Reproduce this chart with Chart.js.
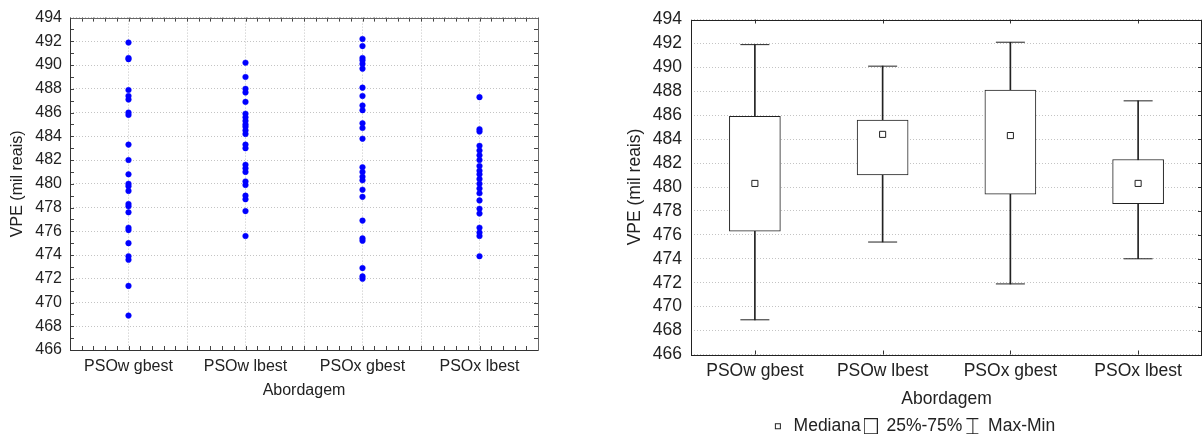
<!DOCTYPE html>
<html>
<head>
<meta charset="utf-8">
<script src="https://cdn.jsdelivr.net/npm/chart.js@4.4.1/dist/chart.umd.min.js"></script>
<style>
  html, body { margin: 0; padding: 0; background: #fff; }
  #wrap { position: relative; width: 1203px; height: 436px; }
  #dots { position: absolute; left: 0; top: 0; }
  #boxes { position: absolute; left: 600px; top: 0; }
</style>
</head>
<body>
<div id="wrap">
  <canvas id="dots" width="600" height="436"></canvas>
  <canvas id="boxes" width="603" height="436"></canvas>
</div>
<script>
const categories = ['PSOw gbest', 'PSOw lbest', 'PSOx gbest', 'PSOx lbest'];
const yMin = 466, yMax = 494, yStep = 2;

// VPE of each run, per approach (left plot)
const psowGbest = [491.9, 490.6, 490.5, 487.9, 487.4, 487.1, 486.0, 485.8, 483.3, 482.0, 480.8, 480.0,
  479.8, 479.4, 478.3, 478.1, 477.6, 476.3, 476.1, 475.0, 473.9, 473.6, 471.4, 468.9];
const psowLbest = [490.2, 489.0, 488.0, 487.7, 486.9, 485.9, 485.6, 485.3, 485.0, 484.8, 484.5, 484.2,
  483.3, 483.0, 481.6, 481.3, 481.0, 480.2, 479.9, 479.0, 478.7, 477.7, 475.6];
const psoxGbest = [492.2, 491.6, 490.6, 490.4, 490.1, 489.7, 488.1, 487.4, 486.6, 486.2, 485.1, 484.7,
  483.8, 481.4, 481.0, 480.6, 480.3, 479.5, 478.9, 476.9, 475.4, 475.2, 472.9, 472.2, 472.0];
const psoxLbest = [487.3, 484.6, 484.4, 483.2, 482.8, 482.4, 482.0, 481.5, 481.1, 480.8, 480.4, 480.0,
  479.6, 479.2, 478.6, 477.9, 477.5, 476.3, 475.9, 475.6, 473.9];

// box plot summary (right plot)
const medians = [480.3, 484.4, 484.3, 480.3];
const q1 = [476.3, 481.0, 479.4, 478.6];
const q3 = [485.9, 485.6, 488.1, 482.3];
const mins = [468.9, 475.4, 471.9, 474.0];
const maxs = [491.9, 490.1, 492.1, 487.2];

const ink = '#222';
const gridColor = '#c4c4c4';
Chart.defaults.font.family = "'Liberation Sans', Arial, sans-serif";
Chart.defaults.color = ink;

// ---------- left: individual values ----------
const runs = [psowGbest, psowLbest, psoxGbest, psoxLbest];
const points = [];
runs.forEach((vals, i) => vals.forEach(v => points.push({ x: i + 1, y: v })));

const leftFrame = {
  id: 'leftFrame',
  afterDraw(chart) {
    const { ctx, chartArea: a, scales: { x, y } } = chart;
    ctx.save();
    ctx.lineWidth = 1;
    ctx.strokeStyle = '#444';
    ctx.beginPath();
    for (let v = yMin; v <= yMax; v++) {
      const py = Math.round(y.getPixelForValue(v)) + 0.5;
      ctx.moveTo(a.left, py); ctx.lineTo(a.left + 4, py);
      ctx.moveTo(a.right, py); ctx.lineTo(a.right - 4, py);
    }
    for (let i = 5; i <= 45; i++) {
      const px = Math.round(x.getPixelForValue(i / 10)) + 0.5;
      ctx.moveTo(px, a.top); ctx.lineTo(px, a.top + 4);
      ctx.moveTo(px, a.bottom); ctx.lineTo(px, a.bottom - 4);
    }
    ctx.stroke();
    const l = Math.round(a.left) + 0.5, r = Math.round(a.right) + 0.5;
    const t = Math.round(a.top) + 0.5, b = Math.round(a.bottom) + 0.5;
    ctx.strokeStyle = '#666';
    ctx.beginPath();
    ctx.moveTo(l, t); ctx.lineTo(r, t); ctx.lineTo(r, b);
    ctx.stroke();
    ctx.strokeStyle = '#333';
    ctx.beginPath();
    ctx.moveTo(l, t); ctx.lineTo(l, b); ctx.lineTo(r, b);
    ctx.stroke();
    ctx.restore();
  }
};

new Chart(document.getElementById('dots'), {
  type: 'scatter',
  data: {
    datasets: [{
      data: points,
      backgroundColor: '#0000ff',
      borderColor: '#0000ff',
      pointRadius: 2.8,
      borderWidth: 0.5
    }]
  },
  options: {
    responsive: false,
    devicePixelRatio: 1,
    animation: false,
    events: [],
    layout: { autoPadding: false, padding: { left: 0, top: 16, right: 62, bottom: 36 } },
    plugins: { legend: { display: false }, tooltip: { enabled: false } },
    scales: {
      x: {
        type: 'linear', min: 0.5, max: 4.5,
        afterFit: s => { s.height = 50; },
        grid: { color: gridColor, drawTicks: false },
        border: { display: false, dash: [1, 2] },
        ticks: {
          stepSize: 0.5, autoSkip: false, maxRotation: 0, padding: 7,
          font: { size: 16 },
          callback: v => Number.isInteger(v) ? categories[v - 1] : ''
        },
        title: { display: true, text: 'Abordagem', font: { size: 16 }, padding: 0 }
      },
      y: {
        min: yMin, max: yMax,
        afterFit: s => { s.width = 70; },
        grid: { color: gridColor, drawTicks: false },
        border: { display: false, dash: [1, 2] },
        ticks: { stepSize: yStep, autoSkip: false, padding: 8, font: { size: 16 } },
        title: { display: true, text: 'VPE (mil reais)', font: { size: 16 }, padding: { top: 8, bottom: 0 } }
      }
    }
  },
  plugins: [leftFrame]
});

// ---------- right: box plot ----------
function icon(w, h, draw) {
  const c = document.createElement('canvas');
  c.width = w; c.height = h;
  const g = c.getContext('2d');
  g.strokeStyle = ink; g.fillStyle = '#fff'; g.lineWidth = 1;
  draw(g);
  return c;
}
const medIcon = icon(14, 14, g => { g.fillRect(4.5, 4.5, 5, 5); g.strokeRect(4.5, 4.5, 5, 5); });
const boxIcon = icon(14, 16, g => { g.strokeRect(0.5, 0.5, 13, 15); });
const rangeIcon = icon(14, 16, g => {
  g.beginPath();
  g.moveTo(1, 0.5); g.lineTo(13, 0.5);
  g.moveTo(7.5, 0.5); g.lineTo(7.5, 15.5);
  g.moveTo(1, 15.5); g.lineTo(13, 15.5);
  g.stroke();
});

const rightFrame = {
  id: 'rightFrame',
  afterDraw(chart) {
    const { ctx, chartArea: a, scales: { x, y } } = chart;
    ctx.save();
    ctx.lineWidth = 1;
    ctx.strokeStyle = '#333';
    ctx.beginPath();
    for (let v = yMin; v <= yMax; v += yStep) {
      const py = Math.round(y.getPixelForValue(v)) + 0.5;
      ctx.moveTo(a.right, py); ctx.lineTo(a.right - 4, py);
    }
    categories.forEach((c, i) => {
      const px = Math.round(x.getPixelForValue(i)) + 0.5;
      ctx.moveTo(px, a.top); ctx.lineTo(px, a.top + 4);
      ctx.moveTo(px, a.bottom); ctx.lineTo(px, a.bottom - 4);
    });
    ctx.stroke();
    ctx.strokeStyle = '#222';
    ctx.strokeRect(Math.round(a.left) + 0.5, Math.round(a.top) + 0.5,
      Math.round(a.right - a.left) - 1, Math.round(a.bottom - a.top));
    ctx.restore();
  }
};

new Chart(document.getElementById('boxes'), {
  type: 'bar',
  data: {
    labels: categories,
    datasets: [
      {
        label: 'Max-Min', order: 4, grouped: false,
        data: mins.map((m, i) => [m, maxs[i]]),
        backgroundColor: ink, borderWidth: 0, barThickness: 1
      },
      {
        label: '25%-75%', order: 3, grouped: false,
        data: q1.map((v, i) => [v, q3[i]]),
        backgroundColor: '#fff', borderColor: ink, borderWidth: 1,
        borderSkipped: false, barThickness: 51
      },
      {
        type: 'line', label: 'max', order: 2, data: maxs, showLine: false,
        pointStyle: 'line', pointRadius: 14.5, borderColor: ink, borderWidth: 1
      },
      {
        type: 'line', label: 'min', order: 1, data: mins, showLine: false,
        pointStyle: 'line', pointRadius: 14.5, borderColor: ink, borderWidth: 1
      },
      {
        type: 'line', label: 'Mediana', order: 0, data: medians, showLine: false,
        pointStyle: 'rect', pointRadius: 4.3, pointBackgroundColor: '#fff',
        pointBorderColor: ink, pointBorderWidth: 1
      }
    ]
  },
  options: {
    responsive: false,
    devicePixelRatio: 1,
    animation: false,
    events: [],
    layout: { autoPadding: false, padding: { left: 24, top: 17, right: 1, bottom: -9 } },
    plugins: {
      tooltip: { enabled: false },
      legend: {
        position: 'bottom',
        labels: {
          usePointStyle: true, boxWidth: 14, padding: 3,
          font: { size: 17.5 }, color: ink,
          generateLabels: () => [
            { text: 'Mediana', pointStyle: medIcon, fontColor: ink, lineWidth: 0, hidden: false },
            { text: '25%-75%', pointStyle: boxIcon, fontColor: ink, lineWidth: 0, hidden: false },
            { text: 'Max-Min', pointStyle: rangeIcon, fontColor: ink, lineWidth: 0, hidden: false }
          ]
        }
      }
    },
    scales: {
      x: {
        afterFit: s => { s.height = 60; s.paddingLeft = 0; s.paddingRight = 0; },
        grid: { display: false, drawTicks: false },
        border: { display: false },
        ticks: { padding: 6, font: { size: 17.5 } },
        title: { display: true, text: 'Abordagem', font: { size: 17.5 }, padding: { top: 0, bottom: 4.5 } }
      },
      y: {
        min: yMin, max: yMax,
        afterFit: s => { s.width = 67; },
        grid: { color: gridColor, drawTicks: false },
        border: { display: false, dash: [1, 2] },
        ticks: { stepSize: yStep, autoSkip: false, padding: 9, font: { size: 17.5 } },
        title: { display: true, text: 'VPE (mil reais)', font: { size: 17.5 }, padding: { top: 1, bottom: 0 } }
      }
    }
  },
  plugins: [rightFrame]
});
</script>
</body>
</html>
